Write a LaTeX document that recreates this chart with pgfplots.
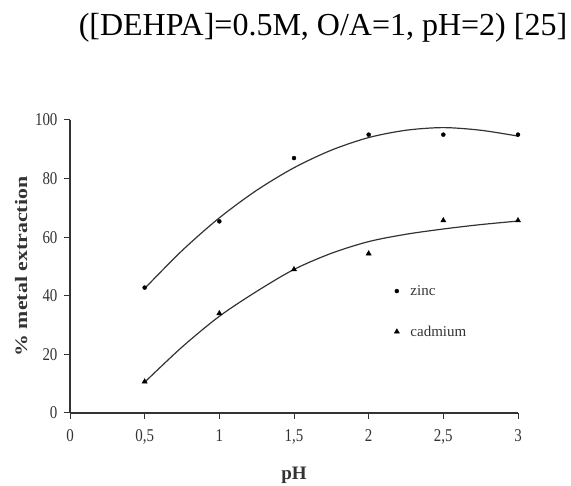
\documentclass[border=0pt]{standalone}
\usepackage{fontspec}
\setmainfont{Liberation Serif}
\newfontfamily\widebold[FakeStretch=1.25]{Liberation Serif Bold}
\newfontfamily\tickfont[FakeStretch=0.83]{Liberation Serif}
\usepackage{pgfplots}
\pgfplotsset{compat=1.18}
\definecolor{ink}{gray}{0.2}
\begin{document}
\begin{tikzpicture}
\path[use as bounding box] (0pt,0pt) rectangle (571pt,486pt);
\node[anchor=base, font=\fontsize{32}{32}\selectfont] at (323pt,450pt) {([DEHPA]=0.5M, O/A=1, pH=2) [25]};
\begin{axis}[
  at={(70pt,73pt)}, anchor=south west, scale only axis,
  width=448pt, height=293pt,
  xmin=0, xmax=3, ymin=0, ymax=100,
  axis lines=left, axis line style={-, line width=1.2pt, ink},
  xtick={0,0.5,1,1.5,2,2.5,3}, ytick={0,20,40,60,80,100},
  tick align=outside, major tick length=6pt,
  tick style={line width=1pt, ink},
  ticklabel style={font=\fontsize{18}{18}\tickfont, ink},
  xticklabel style={yshift=-7pt},
  yticklabel style={xshift=-3pt},
  /pgf/number format/assume math mode=true,
  /pgf/number format/use comma,
  xlabel={pH}, ylabel={\% metal extraction},
  every axis x label/.style={at={(axis description cs:0.5,-0.227)}, anchor=base, font=\fontsize{19}{19}\selectfont\bfseries, ink},
  every axis y label/.style={at={(axis description cs:-0.109,0.5)}, rotate=90, anchor=center, font=\fontsize{17.5}{17.5}\widebold, ink},
  clip=false,
  legend style={draw=none, fill=none, at={(axis cs:2.15,45)}, anchor=north west,
    font=\fontsize{15}{15}\selectfont, text=ink, row sep=25pt,
    /tikz/every odd column/.append style={column sep=9pt}},
  legend cell align=left,
  legend image code/.code={\draw[#1] plot coordinates {(0pt,0pt)};},
]
\addplot[smooth, line width=1.2pt, ink, forget plot] coordinates {
 (0.5,42.5) (0.75,55.4) (1,66.6) (1.25,76.0) (1.5,83.7) (1.75,89.7)
 (2,94.0) (2.25,96.5) (2.5,97.4) (2.75,96.5) (3,94.5)};
\addplot[smooth, line width=1.2pt, ink, forget plot] coordinates {
 (0.5,10.5) (0.75,22.5) (1,33) (1.25,41.5) (1.5,49) (1.75,54.5)
 (2,58.5) (2.25,61) (2.5,62.8) (2.75,64.3) (3,65.5)};
\addplot[only marks, mark=*, mark size=2pt, black] coordinates {
 (0.5,42.8) (1,65.4) (1.5,87) (2,95) (2.5,95) (3,95)};
\addlegendentry{zinc}
\addplot[only marks, mark=triangle*, mark size=3pt, black] coordinates {
 (0.5,10.7) (1,34) (1.5,49) (2,54.4) (2.5,65.7) (3,65.7)};
\addlegendentry{cadmium}
\end{axis}
\end{tikzpicture}
\end{document}
